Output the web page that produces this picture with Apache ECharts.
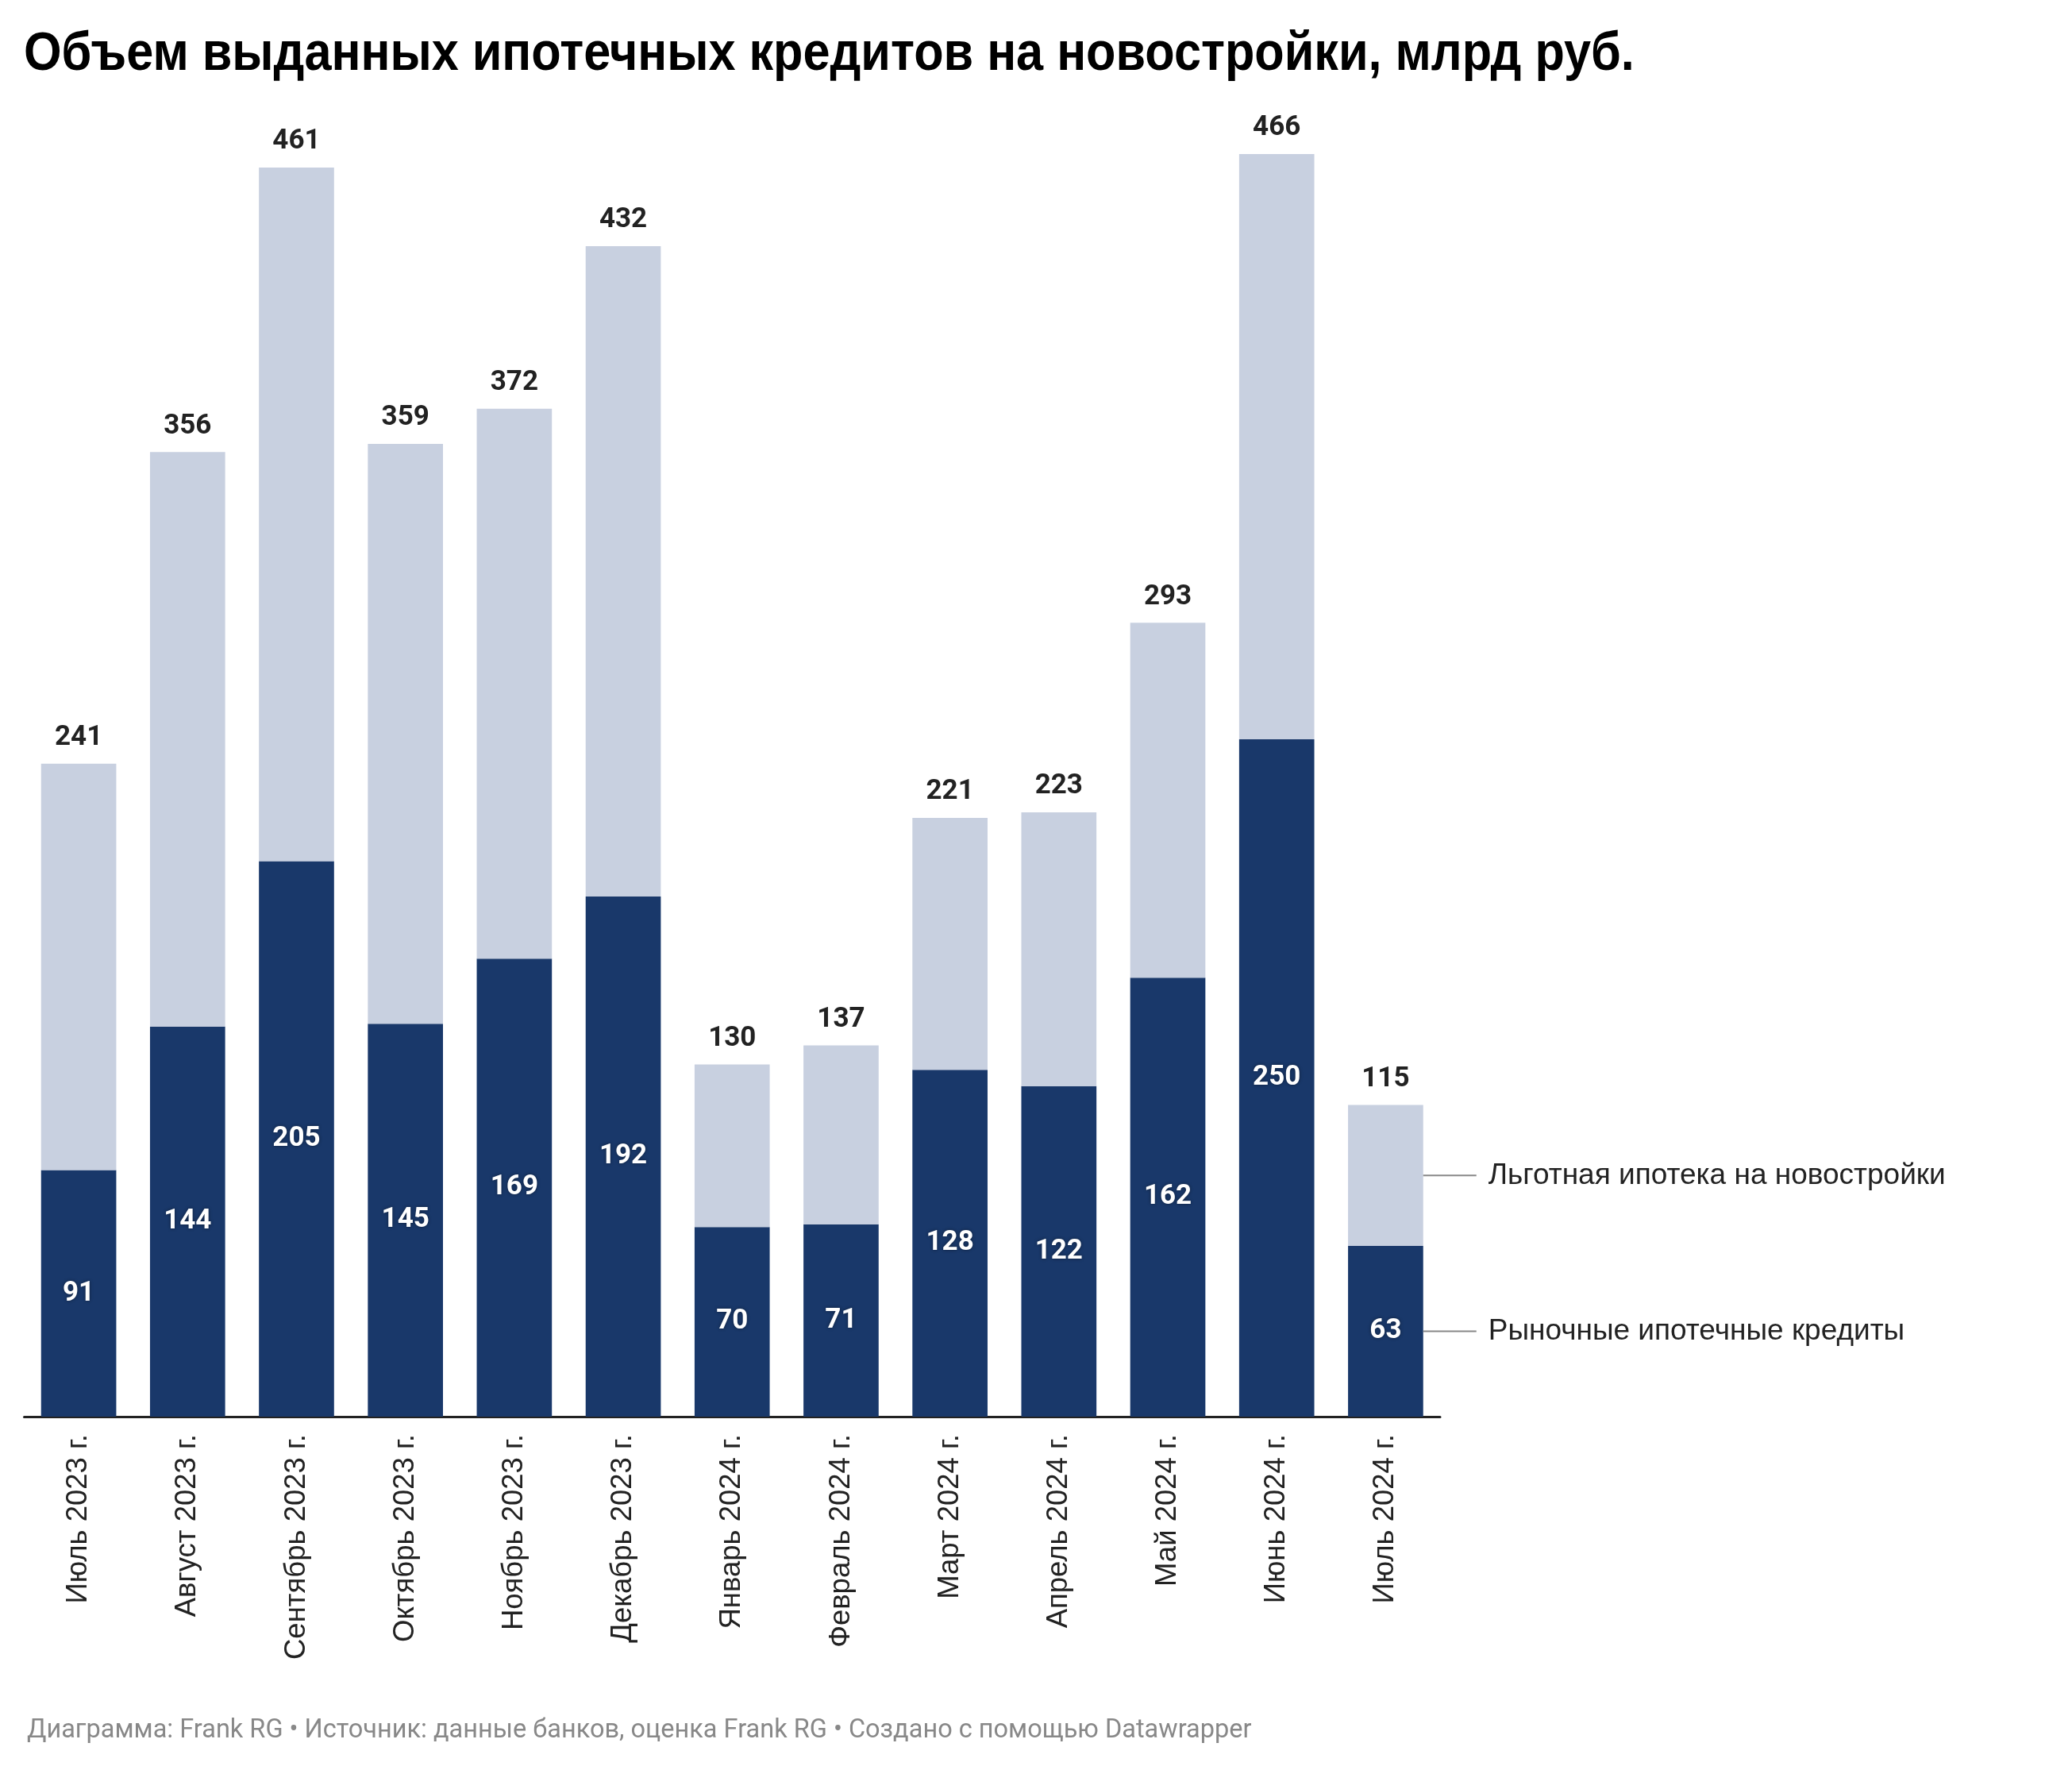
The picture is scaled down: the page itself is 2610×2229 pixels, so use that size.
<!DOCTYPE html>
<html>
<head>
<meta charset="utf-8">
<script src="https://cdn.jsdelivr.net/npm/echarts@6/dist/echarts.min.js"></script>
<style>
html,body{margin:0;padding:0;background:#fff;}
#chart{width:2610px;height:2229px;}
</style>
</head>
<body>
<div id="chart"></div>
<script>
// Categories (months)
const categories = ["Июль 2023 г.", "Август 2023 г.", "Сентябрь 2023 г.", "Октябрь 2023 г.", "Ноябрь 2023 г.", "Декабрь 2023 г.", "Январь 2024 г.", "Февраль 2024 г.", "Март 2024 г.", "Апрель 2024 г.", "Май 2024 г.", "Июнь 2024 г.", "Июль 2024 г."];
// Рыночные ипотечные кредиты, млрд руб.
const marketLoans = [91, 144, 205, 145, 169, 192, 70, 71, 128, 122, 162, 250, 63];
// Льготная ипотека на новостройки, млрд руб.
const subsidizedLoans = [150, 212, 256, 214, 203, 240, 60, 66, 93, 101, 131, 216, 52];
const seriesNames = ["Рыночные ипотечные кредиты", "Льготная ипотека на новостройки"];

const titleText = "Объем выданных ипотечных кредитов на новостройки, млрд руб.";
const footerText = "Диаграмма: Frank RG • Источник: данные банков, оценка Frank RG • Создано с помощью Datawrapper";

const DARK = "#19386a";
const LIGHT = "#c8d0e0";
const last = categories.length - 1;

function onlyLast(arr) {
  return arr.map((v, i) => (i === last ? v : null));
}

function legendLabel(name) {
  return {
    show: true,
    position: "right",
    distance: 0,
    formatter: "{l|}{t|" + name + "}",
    rich: {
      l: { width: 67, height: 2, backgroundColor: "#888888" },
      t: { fontFamily: "Liberation Sans", fontSize: 37, color: "#222222", padding: [0, 0, 0, 15] }
    }
  };
}

const chart = echarts.init(document.getElementById("chart"), null, { renderer: "canvas" });
chart.setOption({
  animation: false,
  backgroundColor: "#ffffff",
  title: [
    {
      text: footerText,
      left: 29,
      top: 2158,
      textStyle: { fontFamily: "Roboto", fontWeight: "normal", fontSize: 32.5, color: "#888888" }
    }
  ],
  graphic: [
    {
      type: "text",
      x: 30,
      y: 35,
      scaleX: 0.9,
      scaleY: 1,
      style: {
        text: titleText,
        font: "bold 68px 'Liberation Sans', Arial, sans-serif",
        fill: "#000000",
        textVerticalAlign: "top"
      }
    }
  ],
  grid: { left: 30.5, right: 796, top: 78, bottom: 445, containLabel: false },
  xAxis: {
    type: "category",
    data: categories,
    boundaryGap: true,
    axisLine: { show: true, lineStyle: { color: "#222222", width: 3 } },
    axisTick: { show: false },
    axisLabel: {
      rotate: 90,
      margin: 22,
      fontFamily: "Liberation Sans",
      fontSize: 36.5,
      color: "#222222",
      interval: 0
    }
  },
  yAxis: {
    type: "value",
    min: 0,
    max: 500,
    show: false,
    splitLine: { show: false }
  },
  series: [
    {
      name: seriesNames[0],
      type: "bar",
      stack: "main",
      barCategoryGap: "31%",
      data: marketLoans,
      itemStyle: { color: DARK },
      label: {
        show: true,
        position: "inside",
        fontFamily: "Roboto",
        fontWeight: "bold",
        fontSize: 35,
        color: "#ffffff",
        textShadowColor: "rgba(0,0,0,0.45)",
        textShadowBlur: 4
      }
    },
    {
      name: seriesNames[1],
      type: "bar",
      stack: "main",
      data: subsidizedLoans,
      itemStyle: { color: LIGHT },
      label: {
        show: true,
        position: "top",
        distance: 15,
        fontFamily: "Roboto",
        fontWeight: "bold",
        fontSize: 35,
        color: "#222222",
        formatter: function (p) { return String(marketLoans[p.dataIndex] + subsidizedLoans[p.dataIndex]); }
      }
    },
    {
      name: "legend-market",
      type: "bar",
      stack: "legend",
      barGap: "-100%",
      data: onlyLast(marketLoans),
      itemStyle: { color: "rgba(0,0,0,0)" },
      label: legendLabel(seriesNames[0]),
      silent: true
    },
    {
      name: "legend-subsidized",
      type: "bar",
      stack: "legend",
      barGap: "-100%",
      data: onlyLast(subsidizedLoans),
      itemStyle: { color: "rgba(0,0,0,0)" },
      label: legendLabel(seriesNames[1]),
      silent: true
    }
  ]
});
</script>
</body>
</html>
